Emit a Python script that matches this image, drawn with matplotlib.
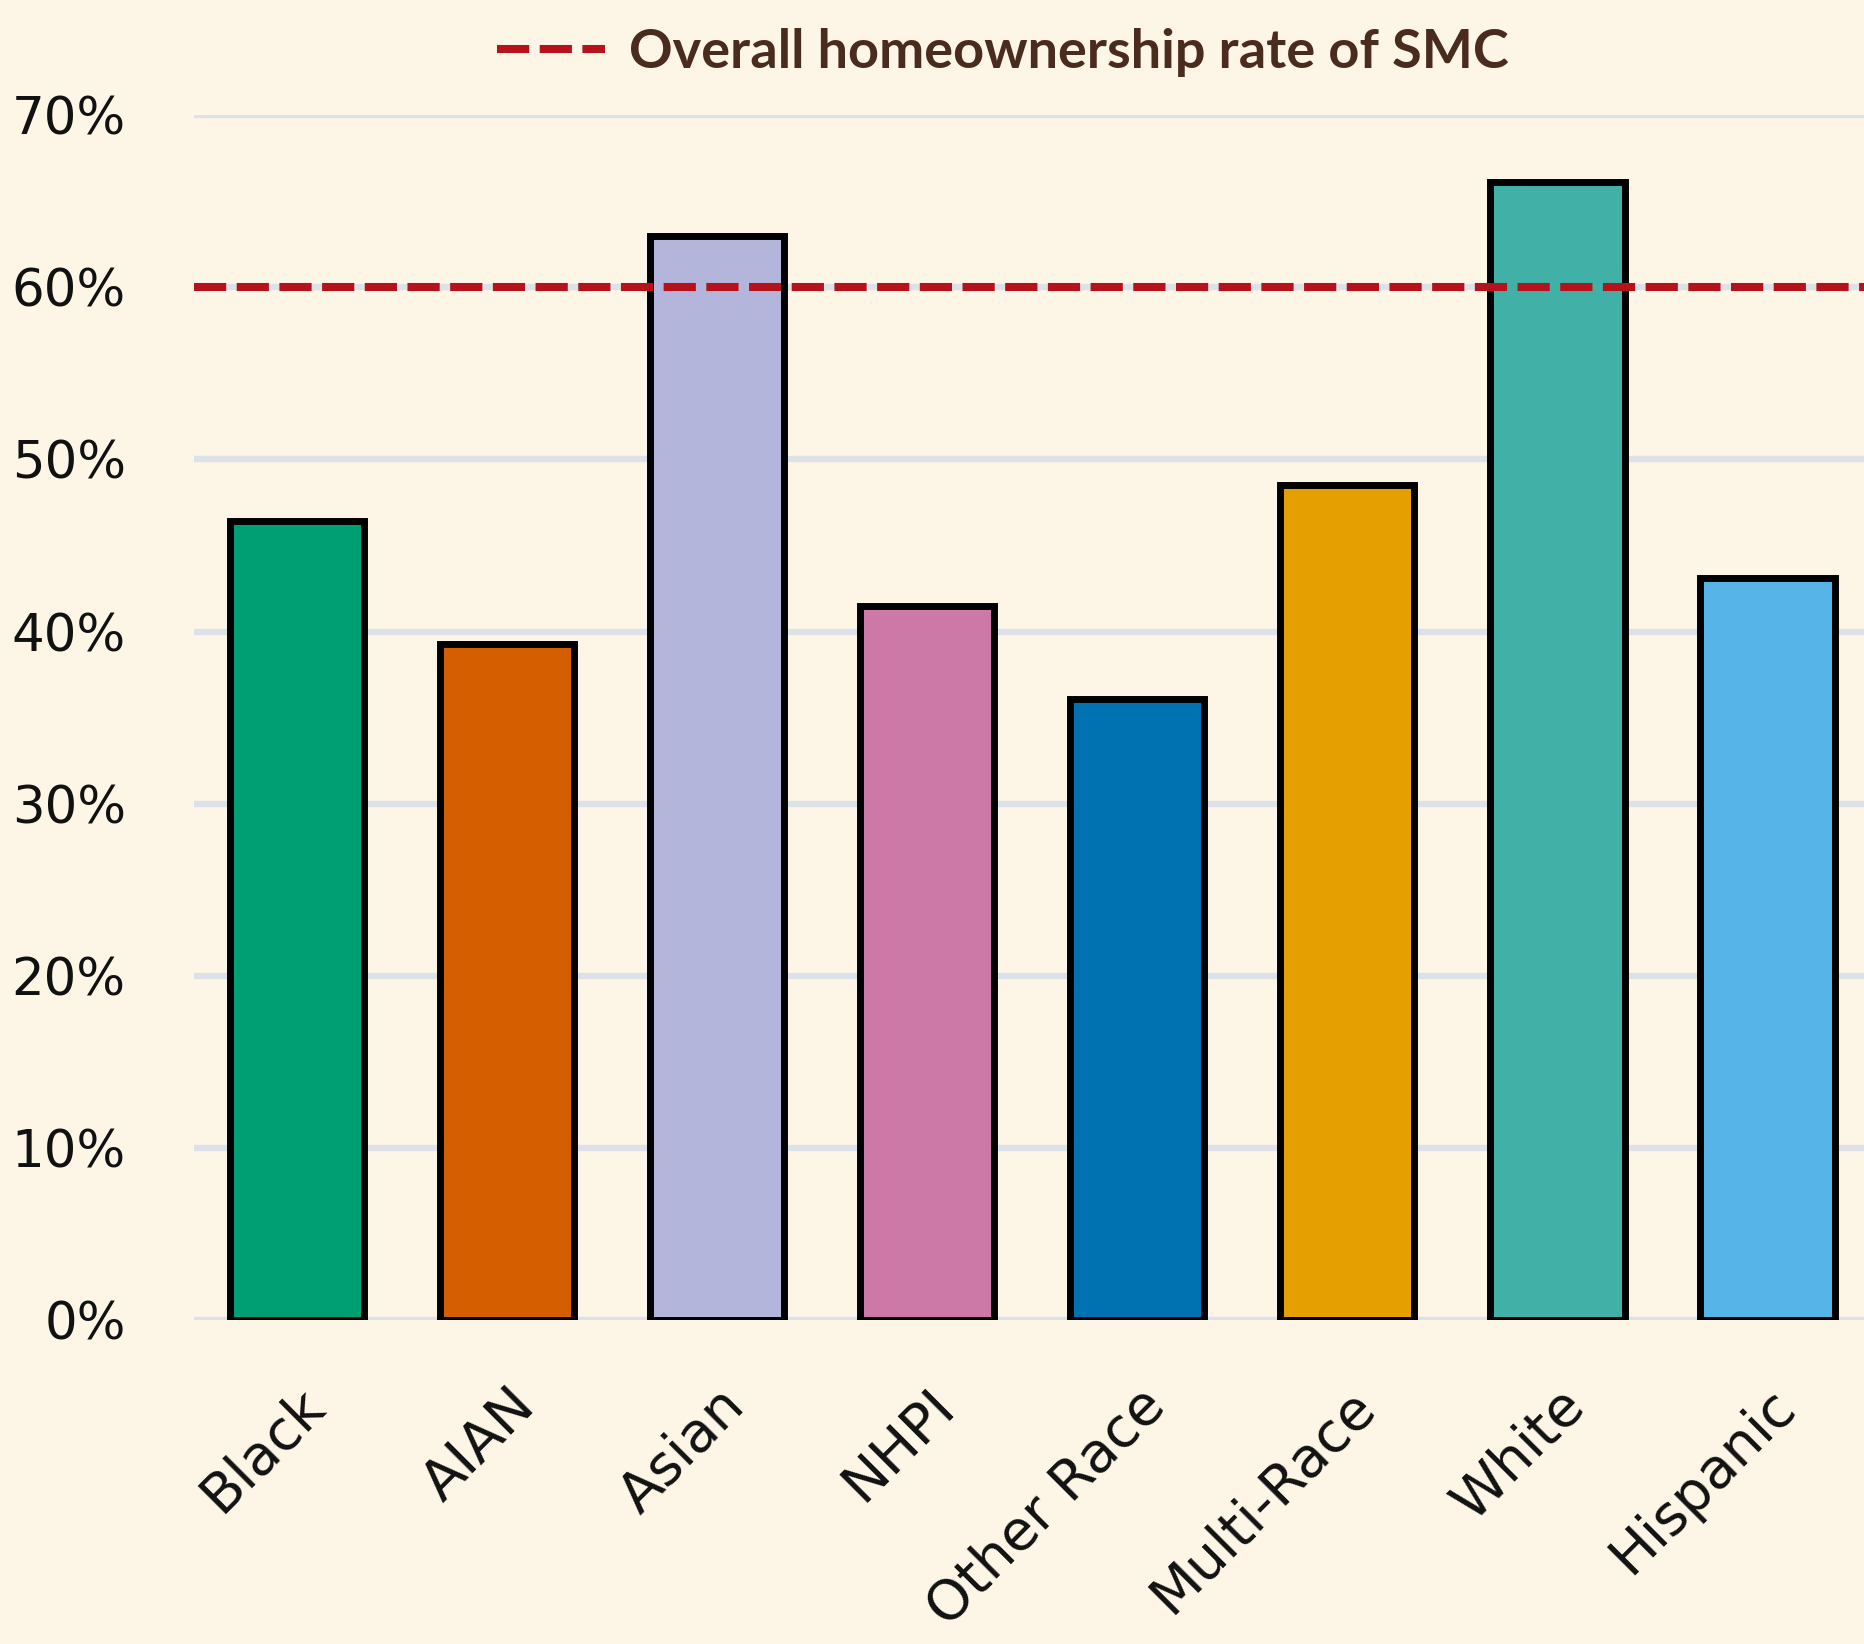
import numpy as np
import matplotlib
matplotlib.use("Agg")
import matplotlib.pyplot as plt
from matplotlib.lines import Line2D

# data
groups = ["Black", "AIAN", "Asian", "NHPI", "Other Race", "Multi-Race", "White", "Hispanic"]
rates = [46.4, 39.3, 63.0, 41.5, 36.1, 48.5, 66.1, 43.1]
overall_rate = 60.0
bar_colors = ["#009e73", "#d55e00", "#b3b5da", "#cc79a7", "#0072b2", "#e69f00", "#41b0a6", "#56b4e9"]
yticks = [0, 10, 20, 30, 40, 50, 60, 70]

bg = "#fdf5e6"
fig = plt.figure(figsize=(18.64, 16.44), dpi=100, facecolor=bg)
ax = fig.add_axes([0.104, 0.197, 0.896, 0.733], facecolor=bg)

x = np.arange(len(groups))
ax.bar(x, rates, width=0.64, color=bar_colors, edgecolor="black", linewidth=5, zorder=3)
ax.axhline(overall_rate, color="#b5121b", linewidth=5.8, dashes=(4, 1.3), zorder=4)

ax.set_ylim(0, 70)
ax.set_xlim(-0.49, 7.46)
ax.set_yticks(yticks)
ax.set_yticklabels([f"{t}%" for t in yticks])
ax.yaxis.grid(True, color="#dde2ea", linewidth=4.5, zorder=0)
ax.set_axisbelow(True)
for s in ax.spines.values():
    s.set_visible(False)
ax.tick_params(axis="y", length=0, pad=49, labelsize=37, labelcolor="#111111")
ax.tick_params(axis="x", length=0, pad=42, labelsize=40, labelcolor="#111111")
ax.set_xticks(x)
ax.set_xticklabels(groups, rotation=45, ha="right", rotation_mode="anchor")

handle = Line2D([], [], color="#b5121b", linewidth=5.8, dashes=(4, 1.3))
leg = fig.legend([handle], ["Overall homeownership rate of SMC"], loc="center",
                 bbox_to_anchor=(0.538, 0.968), frameon=False, handlelength=2.0,
                 handletextpad=0.45,
                 prop={"family": "Lato", "weight": "bold", "size": 39})
for t in leg.get_texts():
    t.set_color("#4a2c1f")

fig.savefig("out.png", dpi=100, facecolor=bg)
